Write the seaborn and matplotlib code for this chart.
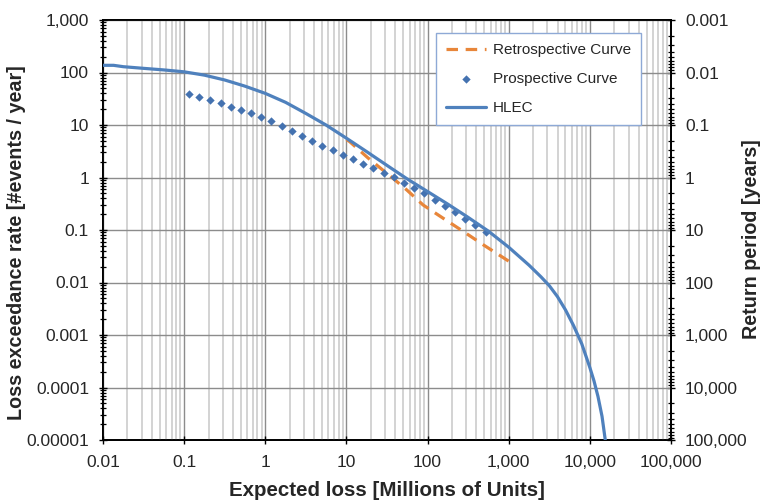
import numpy as np
import pandas as pd
import matplotlib
matplotlib.use("Agg")
import matplotlib.pyplot as plt
import matplotlib.ticker as mticker
import seaborn as sns

# ---------------- data ----------------
hlec_loss = [0.01, 0.0135, 0.0178, 0.0316, 0.056, 0.1, 0.178, 0.316, 0.56, 1.0,
             1.78, 3.16, 5.6, 10, 17.8, 31.6, 56, 100, 178, 316, 562, 1000,
             1778, 2500, 3162, 3981, 5012, 6310, 7943, 10000, 11220, 12589, 14125, 15488]
hlec_rate = [137, 137, 129, 120, 112, 103, 89, 72, 55, 40,
             27, 16.6, 10, 5.6, 3.1, 1.7, 0.94, 0.54, 0.31, 0.174, 0.095, 0.047,
             0.0214, 0.0128, 0.0087, 0.0054, 0.0030, 0.0015, 0.00068, 0.00024, 0.000135,
             0.0000676, 0.0000282, 0.00001]

retro_loss = [10, 11, 18.5, 39.5, 55.5, 88, 156, 278, 490, 1000]
retro_rate = [5.3, 4.8, 2.35, 0.9, 0.578, 0.3, 0.167, 0.093, 0.0518, 0.0255]

prosp_loss = [0.116, 0.154, 0.208, 0.282, 0.375, 0.499, 0.662, 0.895, 1.19, 1.60,
              2.12, 2.82, 3.78, 5.06, 6.79, 9.03, 12.1, 16.1, 21.3, 28.9,
              38.4, 51.0, 68.4, 91.6, 122, 162, 219, 291, 386, 523]
prosp_rate = [38.4, 33.7, 29.9, 26.2, 22.3, 19.6, 16.9, 14.2, 11.8, 9.45,
              7.69, 6.09, 4.96, 4.03, 3.29, 2.72, 2.25, 1.83, 1.52, 1.22,
              1.01, 0.785, 0.631, 0.50, 0.373, 0.290, 0.223, 0.164, 0.125, 0.093]

x_ticks = [0.01, 0.1, 1, 10, 100, 1000, 10000, 100000]
y_ticks = [0.00001, 0.0001, 0.001, 0.01, 0.1, 1, 10, 100, 1000]
y2_ticks = [0.001, 0.01, 0.1, 1, 10, 100, 1000, 10000, 100000]

series_names = ["Retrospective Curve", "Prospective Curve", "HLEC"]
x_label = "Expected loss [Millions of Units]"
y_label = "Loss exceedance rate [#events / year]"
y2_label = "Return period [years]"

# ---------------- style ----------------
sns.set_style("white")
plt.rcParams["font.family"] = ["Liberation Sans", "DejaVu Sans"]

fig = plt.figure(figsize=(7.6, 5.03), dpi=100)
ax = fig.add_axes([103 / 760, 1 - 440 / 503, 568 / 760, 420 / 503])

df_retro = pd.DataFrame({"loss": retro_loss, "rate": retro_rate})
df_prosp = pd.DataFrame({"loss": prosp_loss, "rate": prosp_rate})
df_hlec = pd.DataFrame({"loss": hlec_loss, "rate": hlec_rate})

sns.lineplot(data=df_retro, x="loss", y="rate", ax=ax, color="#E8863A",
             linewidth=2.3, label=series_names[0], zorder=3, sort=False)
ax.lines[-1].set_dashes((3.6, 2.4))
sns.scatterplot(data=df_prosp, x="loss", y="rate", ax=ax, color="#4472B0",
                marker="D", s=18, linewidth=0, label=series_names[1], zorder=4)
sns.lineplot(data=df_hlec, x="loss", y="rate", ax=ax, color="#4F81BD",
             linewidth=2.3, label=series_names[2], zorder=5, sort=False)

ax.set_xscale("log")
ax.set_yscale("log")
ax.set_xlim(0.01, 100000)
ax.set_ylim(0.00001, 1000)


def fmt(v, pos=None):
    if v >= 1:
        return f"{v:,.0f}"
    d = int(round(-np.log10(v)))
    return f"{v:.{d}f}"


ax.xaxis.set_major_locator(mticker.FixedLocator(x_ticks))
ax.xaxis.set_minor_locator(mticker.LogLocator(base=10, subs=np.arange(2, 10), numticks=20))
ax.yaxis.set_major_locator(mticker.FixedLocator(y_ticks))
ax.yaxis.set_minor_locator(mticker.LogLocator(base=10, subs=np.arange(2, 10), numticks=20))
ax.xaxis.set_major_formatter(mticker.FuncFormatter(fmt))
ax.yaxis.set_major_formatter(mticker.FuncFormatter(fmt))
ax.xaxis.set_minor_formatter(mticker.NullFormatter())
ax.yaxis.set_minor_formatter(mticker.NullFormatter())

ax.grid(True, which="major", axis="both", color="#8C8C8C", linewidth=1.0, zorder=1)
ax.grid(True, which="minor", axis="x", color="#D0D0D0", linewidth=1.3, zorder=0)
ax.set_axisbelow(True)

for s in ax.spines.values():
    s.set_color("black")
    s.set_linewidth(1.3)

ax.tick_params(axis="x", which="major", direction="inout", length=6, width=1.0,
               labelsize=12.5, pad=8, color="black", bottom=True)
ax.tick_params(axis="x", which="minor", length=0)
ax.tick_params(axis="y", which="major", direction="inout", length=6, width=1.0,
               labelsize=12.5, pad=7, color="black", left=True)
ax.tick_params(axis="y", which="minor", direction="inout", length=4, width=0.9,
               color="black", left=True)

ax.set_xlabel(x_label, fontsize=14.8, fontweight="bold", labelpad=8)
ax.set_ylabel(y_label, fontsize=14.2, fontweight="bold")
ax.yaxis.set_label_coords(-0.135, 0.47)

# right axis: return period
ax2 = ax.twinx()
ax2.set_yscale("log")
ax2.set_ylim(100000, 0.001)
ax2.yaxis.set_major_locator(mticker.FixedLocator(y2_ticks))
ax2.yaxis.set_minor_locator(mticker.LogLocator(base=10, subs=np.arange(2, 10), numticks=20))
ax2.yaxis.set_major_formatter(mticker.FuncFormatter(fmt))
ax2.yaxis.set_minor_formatter(mticker.NullFormatter())
ax2.tick_params(axis="y", which="major", direction="inout", length=6, width=1.0,
                labelsize=12.5, pad=7, color="black", right=True)
ax2.tick_params(axis="y", which="minor", direction="inout", length=4, width=0.9,
                color="black", right=True)
ax2.set_ylabel(y2_label, fontsize=14.2, fontweight="bold", rotation=90)
ax2.yaxis.set_label_coords(1.1245, 0.478)
ax2.grid(False)
for s in ax2.spines.values():
    s.set_color("black")
    s.set_linewidth(1.3)

# legend
handles, labels = ax.get_legend_handles_labels()
leg = ax.legend(handles, labels, loc="upper left",
                bbox_to_anchor=(436 / 760, 1 - 33 / 503), bbox_transform=fig.transFigure,
                fontsize=11, frameon=True, fancybox=False, framealpha=1,
                edgecolor="#8EA9D6", borderpad=0.65, labelspacing=1.0,
                handlelength=2.6, handletextpad=0.45, borderaxespad=0)
leg.get_frame().set_linewidth(1.0)
leg.set_zorder(10)
ax.set_zorder(ax2.get_zorder() + 1)
ax.patch.set_visible(False)

fig.savefig("out.png", dpi=100)
